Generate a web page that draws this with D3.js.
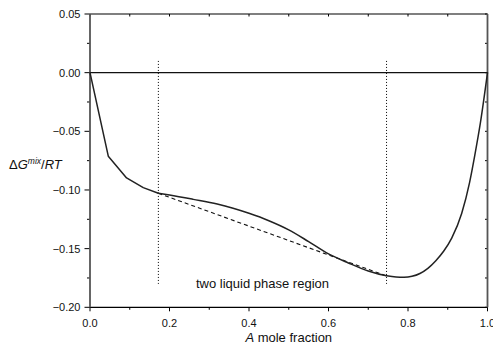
<!DOCTYPE html>
<html>
<head>
<meta charset="utf-8">
<script src="https://cdn.jsdelivr.net/npm/d3@7"></script>
<style>
  html, body { margin: 0; padding: 0; background: #fff; }
  svg { display: block; font-family: "Liberation Sans", Arial, Helvetica, sans-serif; }
</style>
</head>
<body>
<svg id="chart" width="493" height="347"></svg>
<script>
// Mole fraction of A and the reduced free energy of mixing
const moleFraction = [0, 0.046, 0.092, 0.134, 0.172, 0.20, 0.26, 0.32, 0.36, 0.40, 0.45, 0.50, 0.55, 0.60, 0.65, 0.70, 0.746, 0.77, 0.79, 0.81, 0.83, 0.85, 0.87, 0.89, 0.91, 0.935, 0.955, 0.968, 0.982, 1.0];
const gMix = [0, -0.0712, -0.0897, -0.098, -0.1028, -0.1043, -0.108, -0.1120, -0.1156, -0.1199, -0.1262, -0.1340, -0.1440, -0.1545, -0.1622, -0.1690, -0.1731, -0.1742, -0.1744, -0.1736, -0.1712, -0.1668, -0.1603, -0.1520, -0.1410, -0.1200, -0.0935, -0.0705, -0.0431, 0];
// The coarse dilute end is joined point to point, the rest is smoothed
const coarseCount = 5;

// Common tangent points bounding the miscibility gap
const tangentX = [0.172, 0.746];
const tangentG = [-0.1028, -0.1733];
const guideTop = 0.01, guideBottom = -0.18;

const xMajor = [0, 0.2, 0.4, 0.6, 0.8, 1.0];
const xMinor = [0.1, 0.3, 0.5, 0.7, 0.9];
const yMajor = [0.05, 0.00, -0.05, -0.10, -0.15, -0.20];
const yMinor = [0.025, -0.025, -0.075, -0.125, -0.175];

const svg = d3.select("#chart");
const x = d3.scaleLinear().domain([0, 1]).range([90, 487.5]);
const y = d3.scaleLinear().domain([-0.2, 0.05]).range([307.3, 14]);
const [L, R] = x.range();
const [B, T] = y.range();

const fmtX = d3.format(".1f");
const fmtY = d3.format(".2f");

// Bottom axis: outward ticks with labels
const axBottom = svg.append("g").attr("transform", `translate(0,${B})`);
axBottom.selectAll(".maj").data(xMajor).join("line")
  .attr("x1", d => x(d)).attr("x2", d => x(d)).attr("y1", 0).attr("y2", 4)
  .attr("stroke", "#000").attr("stroke-width", 1);
axBottom.selectAll(".min").data(xMinor).join("line")
  .attr("x1", d => x(d)).attr("x2", d => x(d)).attr("y1", 0).attr("y2", 2.5)
  .attr("stroke", "#000").attr("stroke-width", 1);
axBottom.selectAll("text").data(xMajor).join("text")
  .attr("x", d => x(d)).attr("y", 19.5).attr("text-anchor", "middle")
  .attr("font-size", 11).attr("fill", "#111").text(d => fmtX(d));

// Left axis: outward ticks with labels
const axLeft = svg.append("g").attr("transform", `translate(${L},0)`);
axLeft.selectAll(".maj").data(yMajor).join("line")
  .attr("x1", -5.5).attr("x2", 0).attr("y1", d => y(d)).attr("y2", d => y(d))
  .attr("stroke", "#000").attr("stroke-width", 1);
axLeft.selectAll(".min").data(yMinor).join("line")
  .attr("x1", -3).attr("x2", 0).attr("y1", d => y(d)).attr("y2", d => y(d))
  .attr("stroke", "#000").attr("stroke-width", 1);
axLeft.selectAll("text").data(yMajor).join("text")
  .attr("x", -9.5).attr("y", d => y(d)).attr("dy", "0.36em").attr("text-anchor", "end")
  .attr("font-size", 11).attr("fill", "#111").text(d => fmtY(d));

// Top and right axes: inward ticks only
const axTop = svg.append("g");
axTop.selectAll("line").data(xMajor.concat(xMinor)).join("line")
  .attr("x1", d => x(d)).attr("x2", d => x(d)).attr("y1", T).attr("y2", T + 2.5)
  .attr("stroke", "#000").attr("stroke-width", 1);
const axRight = svg.append("g");
axRight.selectAll("line").data(yMajor.concat(yMinor)).join("line")
  .attr("x1", R - 2.5).attr("x2", R).attr("y1", d => y(d)).attr("y2", d => y(d))
  .attr("stroke", "#000").attr("stroke-width", 1);

// Frame
svg.append("line").attr("x1", L).attr("x2", R).attr("y1", T).attr("y2", T)
  .attr("stroke", "#000").attr("stroke-width", 1.2);
svg.append("line").attr("x1", L).attr("x2", R).attr("y1", B).attr("y2", B)
  .attr("stroke", "#000").attr("stroke-width", 1.2);
svg.append("line").attr("x1", L).attr("x2", L).attr("y1", T).attr("y2", B)
  .attr("stroke", "#555").attr("stroke-width", 1.8);
svg.append("line").attr("x1", R).attr("x2", R).attr("y1", T).attr("y2", B)
  .attr("stroke", "#555").attr("stroke-width", 1.8);

// Zero reference line
svg.append("line").attr("x1", x(0)).attr("x2", x(1)).attr("y1", y(0)).attr("y2", y(0))
  .attr("stroke", "#111").attr("stroke-width", 1.1);

// Dotted guides at the tangent compositions
svg.selectAll(".guide").data(tangentX).join("line")
  .attr("x1", d => x(d)).attr("x2", d => x(d))
  .attr("y1", y(guideTop)).attr("y2", y(guideBottom))
  .attr("stroke", "#000").attr("stroke-width", 1).attr("stroke-dasharray", "1,2");

// Common tangent (dashed)
svg.append("line")
  .attr("x1", x(tangentX[0])).attr("y1", y(tangentG[0]))
  .attr("x2", x(tangentX[1])).attr("y2", y(tangentG[1]))
  .attr("stroke", "#111").attr("stroke-width", 1.1).attr("stroke-dasharray", "4,3");

// Free energy of mixing curve
const pts = moleFraction.map((m, i) => [m, gMix[i]]);
const lineCoarse = d3.line().x(d => x(d[0])).y(d => y(d[1])).curve(d3.curveLinear);
const lineSmooth = d3.line().x(d => x(d[0])).y(d => y(d[1])).curve(d3.curveMonotoneX);
const curveStyle = sel => sel.attr("fill", "none").attr("stroke", "#222")
  .attr("stroke-width", 1.5).attr("stroke-linejoin", "round").attr("stroke-linecap", "round");
svg.append("path").datum(pts.slice(0, coarseCount)).attr("d", lineCoarse).call(curveStyle);
svg.append("path").datum(pts.slice(coarseCount - 1)).attr("d", lineSmooth).call(curveStyle);

// Region annotation
svg.append("text").attr("x", 196).attr("y", 287.5).attr("font-size", 13)
  .attr("fill", "#111").text("two liquid phase region");

// Axis titles
const xt = svg.append("text").attr("x", (L + R) / 2).attr("y", 342).attr("text-anchor", "middle")
  .attr("font-size", 13).attr("fill", "#111");
xt.append("tspan").attr("font-style", "italic").text("A");
xt.append("tspan").text(" mole fraction");

const yt = svg.append("text").attr("x", 9).attr("y", 169).attr("font-size", 13).attr("fill", "#111");
yt.append("tspan").text("\u0394");
yt.append("tspan").attr("font-style", "italic").text("G");
yt.append("tspan").attr("font-style", "italic").attr("font-size", 8.5).attr("dy", -5.5).text("mix");
yt.append("tspan").attr("dy", 5.5).text("/");
yt.append("tspan").attr("font-style", "italic").text("RT");
</script>
</body>
</html>
